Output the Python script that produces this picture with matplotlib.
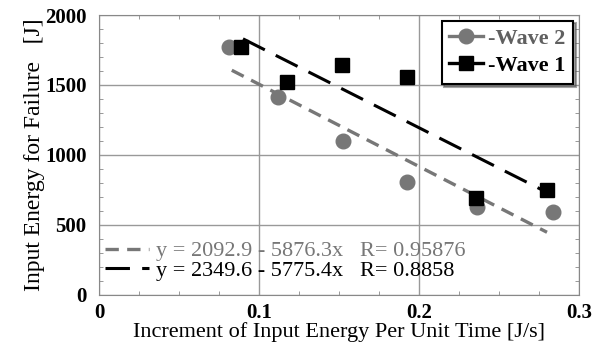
import matplotlib
matplotlib.use('Agg')
import matplotlib.pyplot as plt
from matplotlib.lines import Line2D
from matplotlib.ticker import MultipleLocator
import numpy as np

plt.rcParams['font.family'] = ['Liberation Serif', 'DejaVu Serif']

# wave 2 (gray circles)
w2_x = [0.081, 0.112, 0.1525, 0.1925, 0.236, 0.284]
w2_y = [1770, 1415, 1100, 810, 630, 590]
# wave 1 (black squares)
w1_x = [0.089, 0.1175, 0.152, 0.1925, 0.2355, 0.280]
w1_y = [1770, 1520, 1640, 1555, 695, 750]

fit2 = (2092.9, 5876.3)
fit1 = (2349.6, 5775.4)
fit2_range = [0.083, 0.28]
fit1_range = [0.09, 0.28]

gray = '#777777'

fig = plt.figure(figsize=(6, 3.49), dpi=100)
ax = fig.add_axes([0.165, 0.155, 0.8, 0.802])

xf2 = np.array(fit2_range)
xf1 = np.array(fit1_range)
ax.plot(xf2, fit2[0] - fit2[1] * xf2, color=gray, lw=2.4, dashes=(4, 2.5))
ax.plot(xf1, fit1[0] - fit1[1] * xf1, color='black', lw=2.2, dashes=(8, 4))

ax.plot(w2_x, w2_y, 'o', color=gray, ms=10.5, zorder=3)
ax.plot(w1_x, w1_y, 's', color='black', ms=10, zorder=3)

ax.set_xlim(0, 0.3)
ax.set_ylim(0, 2000)
ax.xaxis.set_minor_locator(MultipleLocator(0.025))
ax.yaxis.set_minor_locator(MultipleLocator(100))
ax.set_xticks([0, 0.1, 0.2, 0.3])
ax.set_xticklabels(['0', '0.1', '0.2', '0.3'], fontweight='bold')
ax.set_yticks([0, 500, 1000, 1500, 2000])
ax.set_yticklabels(['0', '500', '1000', '1500', '2000'], fontweight='bold')
ax.tick_params(which='both', direction='in', top=True, right=True,
               labelsize=15, color='#888888')
ax.tick_params(which='major', length=0)
ax.tick_params(axis='y', which='major', pad=9)
ax.tick_params(axis='x', which='major', pad=6)
ax.tick_params(which='minor', length=3)
ax.grid(True, which='major', color='#999999', lw=1)
for s in ax.spines.values():
    s.set_color('#888888')

ax.set_xlabel('Increment of Input Energy Per Unit Time [J/s]', fontsize=16, labelpad=-1)
ax.set_ylabel('Input Energy for Failure   [J]', fontsize=17, labelpad=0)

h2 = Line2D([], [], color=gray, lw=2.4, marker='o', ms=10.5)
h1 = Line2D([], [], color='black', lw=2.4, marker='s', ms=10)
leg = ax.legend([h2, h1], ['-Wave 2', '-Wave 1'], loc='upper right',
                prop={'size': 16, 'weight': 'bold'},
                handlelength=1.5, handletextpad=0.25,
                fancybox=False, shadow=True, framealpha=1,
                borderaxespad=0.25, labelspacing=0.3, borderpad=0.35)
leg.get_frame().set_edgecolor('black')
leg.get_frame().set_linewidth(1.5)
leg.get_texts()[0].set_color('#606060')
ax.add_artist(leg)

e2 = Line2D([], [], color=gray, lw=2.4, dashes=(4, 2.5))
e1 = Line2D([], [], color='black', lw=2.2, dashes=(8, 4))
leg2 = ax.legend([e2, e1], ['y = 2092.9 - 5876.3x   R= 0.95876',
                            'y = 2349.6 - 5775.4x   R= 0.8858'],
                 loc='lower left', frameon=False, fontsize=16,
                 handlelength=2.0, handletextpad=0.3, labelspacing=-0.05,
                 borderaxespad=0, borderpad=0, bbox_to_anchor=(0.012, 0.05))
leg2.get_texts()[0].set_color(gray)

fig.savefig('out.png', dpi=100)
